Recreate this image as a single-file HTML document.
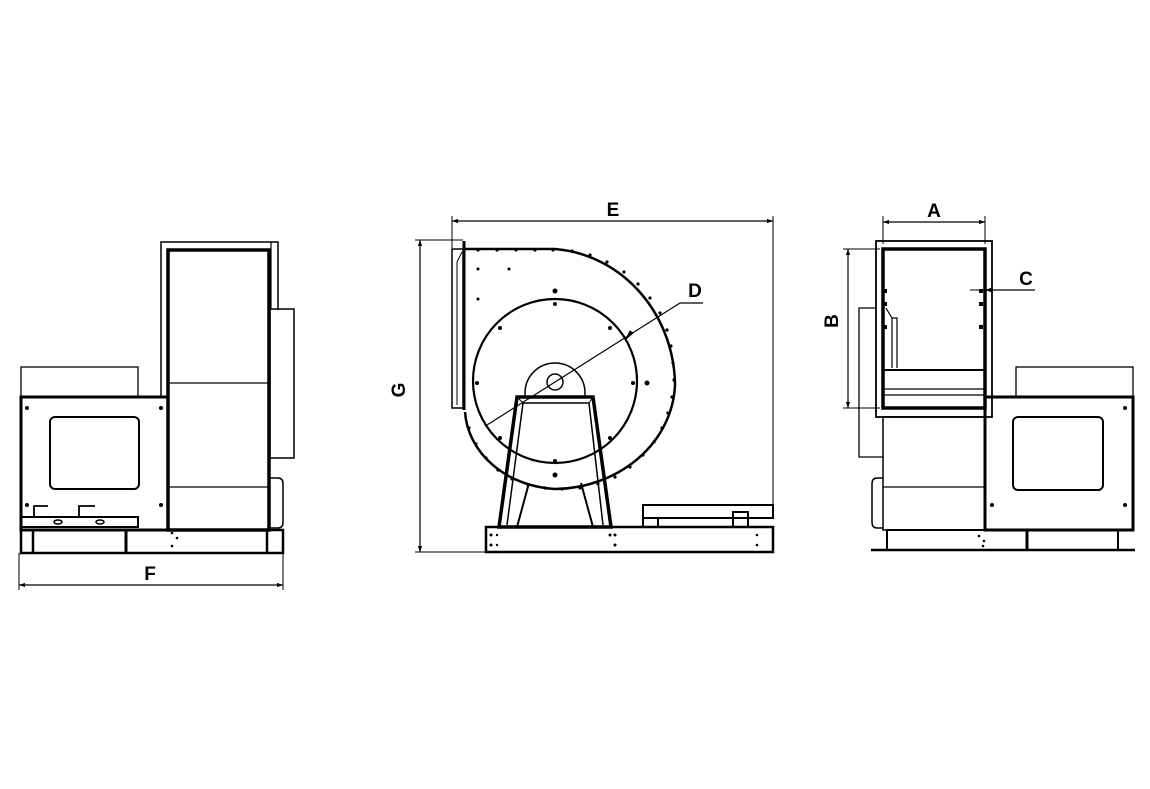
<!DOCTYPE html>
<html><head><meta charset="utf-8"><style>
html,body{margin:0;padding:0;background:#fff;}
svg{display:block;}
text{font-family:"Liberation Sans",sans-serif;font-weight:bold;font-size:19px;fill:#000;}
</style></head><body>
<svg width="1150" height="789" viewBox="0 0 1150 789" xmlns="http://www.w3.org/2000/svg">
<defs>
<marker id="ar" viewBox="0 0 10 10" refX="10" refY="5" markerWidth="10" markerHeight="6" orient="auto-start-reverse" markerUnits="userSpaceOnUse"><path d="M0,1.5 L10,5 L0,8.5 z" fill="#000"/></marker>
</defs>
<g fill="none" stroke="#000">
<!-- ===== LEFT VIEW ===== -->
<path d="M161,397 V242 H278 V310" stroke-width="1.5"/>
<line x1="271" y1="242" x2="271" y2="310" stroke-width="1.2"/>
<rect x="168" y="250" width="101" height="280" stroke-width="3.5"/>
<line x1="168" y1="383" x2="269" y2="383" stroke-width="1.2"/>
<line x1="168" y1="487" x2="269" y2="487" stroke-width="1.2"/>
<rect x="270" y="309" width="24" height="149" stroke-width="1.5"/>
<path d="M270,478 H278 Q283,478 283,484 V522 Q283,528 278,528 H270" stroke-width="1.5"/>
<rect x="21" y="367" width="117" height="30" stroke-width="1.3"/>
<rect x="21" y="397" width="147" height="133" stroke-width="3"/>
<rect x="50" y="417" width="89" height="72" rx="5" stroke-width="2"/>
<rect x="21" y="517" width="117" height="10" stroke-width="2"/>
<path d="M34,517 V506 H48 M79,517 V506 H95" stroke-width="1.8"/>
<ellipse cx="58" cy="522" rx="4" ry="2" stroke-width="1.5"/>
<ellipse cx="100" cy="522" rx="4" ry="2" stroke-width="1.5"/>
<rect x="21" y="530" width="262" height="23" stroke-width="2.5"/>
<line x1="33" y1="530" x2="33" y2="553" stroke-width="2.5"/>
<line x1="126" y1="530" x2="126" y2="553" stroke-width="3"/>
<line x1="267" y1="530" x2="267" y2="553" stroke-width="2.5"/>
<line x1="19" y1="553" x2="19" y2="590" stroke-width="1"/>
<line x1="283" y1="553" x2="283" y2="590" stroke-width="1"/>
<line x1="19" y1="585" x2="283" y2="585" stroke-width="1.2" marker-start="url(#ar)" marker-end="url(#ar)"/>

<!-- ===== CENTER VIEW ===== -->
<line x1="452" y1="216" x2="452" y2="248" stroke-width="1"/>
<line x1="773" y1="216" x2="773" y2="505" stroke-width="1"/>
<line x1="452" y1="221" x2="773" y2="221" stroke-width="1.2" marker-start="url(#ar)" marker-end="url(#ar)"/>
<line x1="415" y1="240" x2="463" y2="240" stroke-width="1"/>
<line x1="415" y1="552" x2="488" y2="552" stroke-width="1"/>
<line x1="420" y1="240" x2="420" y2="552" stroke-width="1.2" marker-start="url(#ar)" marker-end="url(#ar)"/>
<rect x="452" y="249" width="11" height="159" stroke-width="1.5"/>
<path d="M457,262 L462,252 M457,262 V405" stroke-width="1"/>
<line x1="464" y1="241" x2="464" y2="410" stroke-width="3"/>
<path d="M464,249 L555,249 A130 138 0 0 1 675 385 A122 108 0 0 1 555 489 A96 82 0 0 1 465 412" stroke-width="2.5"/>
<circle cx="555" cy="381" r="82" stroke-width="2.2"/>
<path d="M525,397 V393 A30 30 0 0 1 585 393 V397" stroke-width="1.5"/>
<circle cx="555" cy="382" r="8" stroke-width="1.5"/>
<path d="M517,397 H593 L611,527 H499 Z" stroke-width="3.5"/>
<path d="M523,403 H589 L603,525 M523,403 L507,525" stroke-width="1.5"/>
<path d="M517,397 L523,403 M593,397 L589,403" stroke-width="1"/>
<path d="M529,483 L517,527 M581,483 L593,527" stroke-width="2"/>
<rect x="486" y="527" width="287" height="25" stroke-width="2.5"/>
<rect x="643" y="505" width="130" height="13" stroke-width="2"/>
<rect x="643" y="518" width="15" height="9" stroke-width="2"/>
<rect x="733" y="512" width="15" height="15" stroke-width="2"/>
<line x1="487" y1="425" x2="680" y2="303" stroke-width="1.2"/>
<line x1="680" y1="303" x2="703" y2="303" stroke-width="1.2"/>
<path d="M633,333 L626,339 L630,331 Z" fill="#000" stroke-width="1"/>

<!-- ===== RIGHT VIEW ===== -->
<line x1="883" y1="216" x2="883" y2="244" stroke-width="1"/>
<line x1="985" y1="216" x2="985" y2="244" stroke-width="1"/>
<line x1="883" y1="222" x2="985" y2="222" stroke-width="1.2" marker-start="url(#ar)" marker-end="url(#ar)"/>
<rect x="876" y="241" width="116" height="176" stroke-width="1.8"/>
<rect x="883" y="249" width="102" height="159" stroke-width="3.5"/>
<line x1="843" y1="249" x2="880" y2="249" stroke-width="1"/>
<line x1="843" y1="408" x2="880" y2="408" stroke-width="1"/>
<line x1="848" y1="249" x2="848" y2="408" stroke-width="1.2" marker-start="url(#ar)" marker-end="url(#ar)"/>
<line x1="970" y1="290" x2="985" y2="290" stroke-width="1"/>
<line x1="985" y1="290" x2="1035" y2="290" stroke-width="1.2" marker-start="url(#ar)"/>
<line x1="883" y1="370" x2="985" y2="370" stroke-width="2"/>
<line x1="883" y1="389" x2="985" y2="389" stroke-width="1.2"/>
<line x1="883" y1="395" x2="985" y2="395" stroke-width="1.2"/>
<path d="M886,308 L892,318 H897 V368 M892,318 V368" stroke-width="1.2"/>
<path d="M876,308 H859 V457 H883" stroke-width="1.3"/>
<rect x="883" y="417" width="102" height="113" stroke-width="1.5"/>
<line x1="985" y1="417" x2="985" y2="530" stroke-width="3"/>
<line x1="883" y1="487" x2="985" y2="487" stroke-width="1.2"/>
<path d="M883,478 H877 Q872,478 872,484 V522 Q872,528 877,528 H883" stroke-width="1.5"/>
<rect x="1016" y="367" width="117" height="30" stroke-width="1.3"/>
<rect x="985" y="397" width="148" height="133" stroke-width="3"/>
<rect x="1013" y="417" width="90" height="73" rx="5" stroke-width="2"/>
<rect x="887" y="530" width="231" height="20" stroke-width="2"/>
<line x1="1027" y1="530" x2="1027" y2="550" stroke-width="3"/>
<line x1="871" y1="550" x2="1135" y2="550" stroke-width="2.5"/>
</g>
<g fill="#000">
<!-- left dots -->
<circle cx="27" cy="408" r="2"/><circle cx="161" cy="408" r="2"/><circle cx="27" cy="505" r="2"/><circle cx="161" cy="505" r="2"/>
<circle cx="172" cy="533" r="1.3"/><circle cx="177" cy="538" r="1.3"/><circle cx="172" cy="546" r="1.3"/>
<!-- center dots -->
<circle cx="478" cy="250" r="1.6"/><circle cx="497" cy="250" r="1.6"/><circle cx="516" cy="250" r="1.6"/><circle cx="535" cy="250" r="1.6"/><circle cx="553" cy="250" r="1.6"/>
<circle cx="572" cy="251" r="1.6"/><circle cx="590" cy="255" r="1.6"/><circle cx="607" cy="262" r="1.6"/><circle cx="624" cy="272" r="1.6"/><circle cx="638" cy="284" r="1.6"/><circle cx="650" cy="298" r="1.6"/><circle cx="660" cy="313" r="1.6"/><circle cx="667" cy="330" r="1.6"/><circle cx="671" cy="346" r="1.6"/><circle cx="673" cy="363" r="1.6"/><circle cx="674" cy="380" r="1.6"/><circle cx="672" cy="397" r="1.6"/><circle cx="668" cy="413" r="1.6"/><circle cx="662" cy="428" r="1.6"/><circle cx="654" cy="442" r="1.6"/><circle cx="643" cy="455" r="1.6"/><circle cx="630" cy="467" r="1.6"/><circle cx="615" cy="477" r="1.6"/><circle cx="598" cy="484" r="1.6"/><circle cx="580" cy="488" r="1.6"/><circle cx="562" cy="489" r="1.6"/><circle cx="545" cy="488" r="1.6"/><circle cx="528" cy="485" r="1.6"/><circle cx="512" cy="479" r="1.6"/><circle cx="498" cy="470" r="1.6"/><circle cx="486" cy="458" r="1.6"/><circle cx="476" cy="444" r="1.6"/><circle cx="469" cy="428" r="1.6"/>
<circle cx="478" cy="269" r="1.5"/><circle cx="509" cy="269" r="1.5"/><circle cx="478" cy="299" r="1.5"/>
<circle cx="555" cy="291" r="2.5"/><circle cx="555" cy="304" r="2"/><circle cx="500" cy="328" r="2"/><circle cx="610" cy="328" r="2"/><circle cx="477" cy="383" r="2"/><circle cx="633" cy="383" r="2"/><circle cx="647" cy="383" r="2.5"/><circle cx="500" cy="438" r="2"/><circle cx="610" cy="438" r="2"/><circle cx="555" cy="461" r="2"/><circle cx="555" cy="475" r="2.5"/>
<circle cx="491" cy="535" r="1.5"/><circle cx="491" cy="545" r="1.5"/><circle cx="497" cy="535" r="1.2"/><circle cx="497" cy="545" r="1.2"/><circle cx="610" cy="535" r="1.5"/><circle cx="615" cy="535" r="1.5"/><circle cx="615" cy="545" r="1.5"/><circle cx="757" cy="535" r="1.3"/><circle cx="757" cy="545" r="1.3"/>
<!-- right dots -->
<rect x="883" y="289" width="4" height="4"/><rect x="883" y="302" width="4" height="4"/><rect x="883" y="325" width="4" height="4"/>
<rect x="979" y="289" width="4" height="4"/><rect x="979" y="302" width="4" height="4"/><rect x="979" y="325" width="4" height="4"/>
<circle cx="1125" cy="408" r="2"/><circle cx="992" cy="505" r="2"/><circle cx="1125" cy="505" r="2"/>
<circle cx="979" cy="536" r="1.3"/><circle cx="984" cy="541" r="1.3"/><circle cx="983" cy="546" r="1.3"/>
</g>
<text x="150" y="580" text-anchor="middle">F</text>
<text x="613" y="216" text-anchor="middle">E</text>
<text x="695" y="297" text-anchor="middle">D</text>
<text x="412" y="397" text-anchor="middle" transform="rotate(-90 405 397)">G</text>
<text x="934" y="217" text-anchor="middle">A</text>
<text x="1026" y="285" text-anchor="middle">C</text>
<text x="845" y="328" text-anchor="middle" transform="rotate(-90 838 328)">B</text>
</svg>
</body></html>
